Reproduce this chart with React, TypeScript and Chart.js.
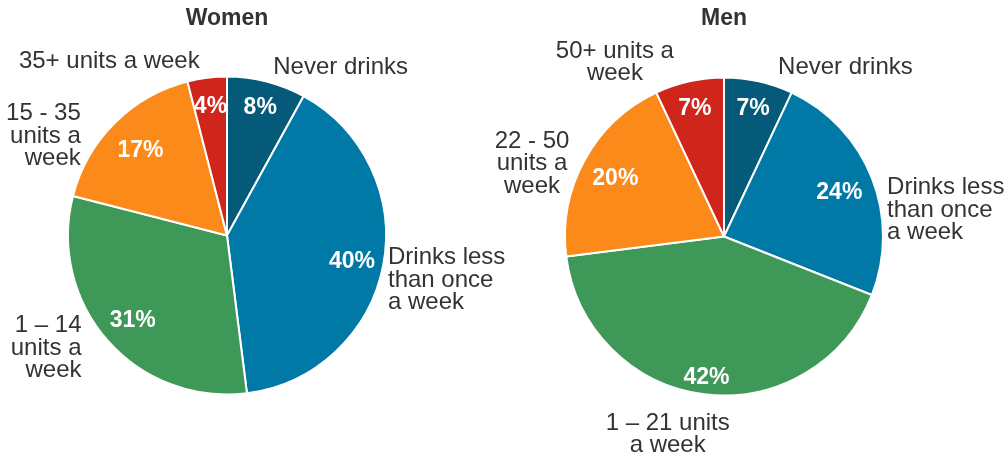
import React, { useEffect, useRef } from "react";
import { Chart, registerables } from "chart.js";

Chart.register(...registerables);

// ---- data ----
const sliceColors = ["#045a78", "#0079a6", "#3e9858", "#fb8a1a", "#d0251a"];

const womenTitle = "Women";
const womenCategories = [
  "Never drinks",
  "Drinks less\nthan once\na week",
  "1 – 14\nunits a\nweek",
  "15 - 35\nunits a\nweek",
  "35+ units a week",
];
const womenValues = [8, 40, 31, 17, 4];

const menTitle = "Men";
const menCategories = [
  "Never drinks",
  "Drinks less\nthan once\na week",
  "1 – 21 units\na week",
  "22 - 50\nunits a\nweek",
  "50+ units a\nweek",
];
const menValues = [7, 24, 42, 20, 7];

// ---- layout (label placement relative to each slice) ----
type LabelLayout = { dx: number; dy: number; align: CanvasTextAlign; pct: number };
const womenLabelLayout: LabelLayout[] = [
  { dx: 4, dy: -3, align: "left", pct: 0.84 },
  { dx: -6, dy: 13, align: "left", pct: 0.8 },
  { dx: -18, dy: 0, align: "right", pct: 0.79 },
  { dx: -26, dy: 21, align: "right", pct: 0.77 },
  { dx: -6, dy: -5, align: "right", pct: 0.83 },
];
const menLabelLayout: LabelLayout[] = [
  { dx: 17, dy: -3, align: "left", pct: 0.84 },
  { dx: 5, dy: 36, align: "left", pct: 0.78 },
  { dx: -35, dy: 29, align: "center", pct: 0.88 },
  { dx: -43, dy: 9, align: "center", pct: 0.78 },
  { dx: -72, dy: -8, align: "center", pct: 0.84 },
];

const FONT = '"Liberation Sans", Arial, Helvetica, sans-serif';
const TEXT_COLOR = "#333333";

function makeLabelPlugin(title: string, layout: LabelLayout[]) {
  return {
    id: "pieLabels",
    afterDatasetsDraw(chart: any) {
      const ctx: CanvasRenderingContext2D = chart.ctx;
      const meta = chart.getDatasetMeta(0);
      const labels: string[] = chart.data.labels;
      const values: number[] = chart.data.datasets[0].data;
      ctx.save();
      let cx = 0;
      meta.data.forEach((arc: any, i: number) => {
        const { x, y, startAngle, endAngle, outerRadius } = arc.getProps(
          ["x", "y", "startAngle", "endAngle", "outerRadius"],
          true
        );
        cx = x;
        const mid = (startAngle + endAngle) / 2;
        const lay = layout[i];
        // percentage
        const pr = outerRadius * lay.pct;
        ctx.fillStyle = "#ffffff";
        ctx.font = `bold 23px ${FONT}`;
        ctx.textAlign = "center";
        ctx.textBaseline = "middle";
        ctx.fillText(values[i] + "%", x + Math.cos(mid) * pr, y + Math.sin(mid) * pr + 2);
        // outer label
        const r = outerRadius + 11;
        const ax = x + Math.cos(mid) * r + lay.dx;
        const ay = y + Math.sin(mid) * r + lay.dy;
        const lines = labels[i].split("\n");
        const lh = 22.5;
        const y0 = ay - ((lines.length - 1) * lh) / 2;
        ctx.fillStyle = TEXT_COLOR;
        ctx.font = `24px ${FONT}`;
        ctx.textAlign = lay.align;
        lines.forEach((ln, k) => ctx.fillText(ln, ax, y0 + k * lh));
      });
      // title
      ctx.fillStyle = TEXT_COLOR;
      ctx.font = `bold 23px ${FONT}`;
      ctx.textAlign = "center";
      ctx.textBaseline = "middle";
      ctx.fillText(title, cx, 19);
      ctx.restore();
    },
  };
}

function PieCanvas(props: {
  title: string;
  categories: string[];
  values: number[];
  layout: LabelLayout[];
  padding: { left: number; right: number; top: number; bottom: number };
}) {
  const ref = useRef<HTMLCanvasElement | null>(null);
  useEffect(() => {
    if (!ref.current) return;
    const chart = new Chart(ref.current, {
      type: "pie",
      data: {
        labels: props.categories,
        datasets: [
          {
            data: props.values,
            backgroundColor: sliceColors,
            borderColor: "#ffffff",
            borderWidth: 2,
          },
        ],
      },
      options: {
        responsive: false,
        animation: false,
        layout: { padding: props.padding },
        plugins: {
          legend: { display: false },
          tooltip: { enabled: false },
          title: { display: false },
        },
      },
      plugins: [makeLabelPlugin(props.title, props.layout)],
    });
    return () => chart.destroy();
  }, []);
  return (
    <canvas
      ref={ref}
      width={1006}
      height={459}
      style={{ position: "absolute", left: 0, top: 0, width: 1006, height: 459 }}
    />
  );
}

export default function App() {
  return (
    <div
      style={{
        position: "absolute",
        left: 0,
        top: 0,
        width: 1006,
        height: 459,
        background: "#ffffff",
      }}
    >
      <PieCanvas
        title={womenTitle}
        categories={womenCategories}
        values={womenValues}
        layout={womenLabelLayout}
        padding={{ left: 67, right: 619, top: 75, bottom: 63 }}
      />
      <PieCanvas
        title={menTitle}
        categories={menCategories}
        values={menValues}
        layout={menLabelLayout}
        padding={{ left: 564, right: 122, top: 76, bottom: 62 }}
      />
    </div>
  );
}
